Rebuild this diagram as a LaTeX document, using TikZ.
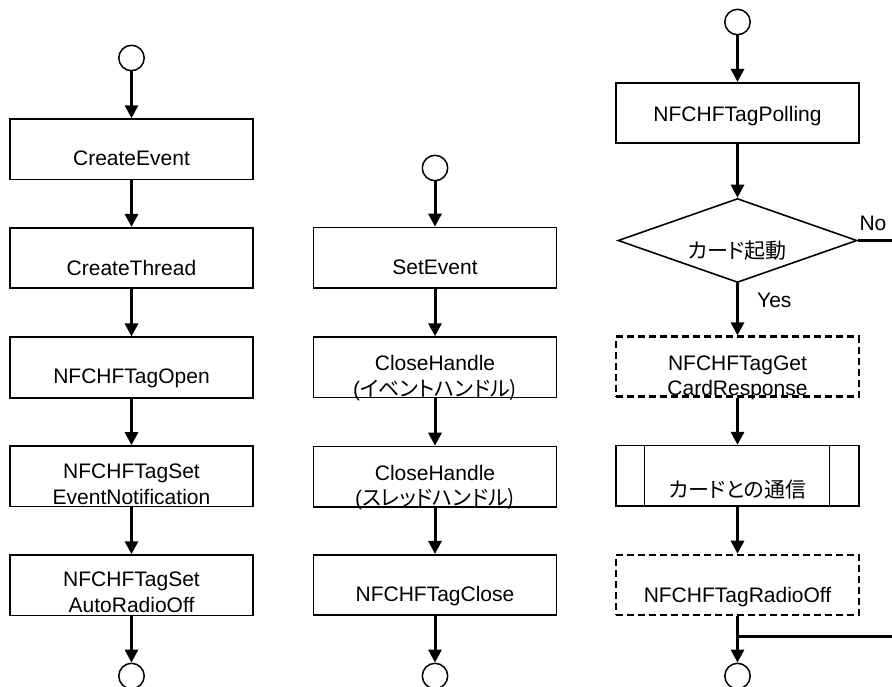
\documentclass[tikz,border=0pt]{standalone}
\usepackage{fontspec}
\setmainfont{Liberation Sans}
\newfontfamily\cjk{Noto Sans CJK JP}[RawFeature=+palt]
\usetikzlibrary{arrows.meta,shapes.geometric}
\begin{document}
\begin{tikzpicture}[x=1pt,y=-1pt,
  box/.style={draw,line width=1.6pt,minimum width=243pt,minimum height=60.5pt,inner sep=0pt},
  dbox/.style={draw,line width=2.6pt,dash pattern=on 7pt off 4pt,minimum width=243pt,minimum height=60pt,inner sep=0pt},
  term/.style={draw,circle,line width=1.5pt,minimum size=25.4pt,inner sep=0pt},
  dec/.style={draw,diamond,line width=1.6pt,minimum width=239pt,minimum height=84pt,inner sep=0pt},
  conn/.style={line width=3pt,-{Triangle[length=13pt,width=13pt]}},
  line/.style={line width=3pt},
  txt/.style={anchor=base,inner sep=0pt,font=\fontsize{21}{25}\selectfont},
  jtxt/.style={anchor=base,inner sep=0pt,font=\fontsize{21}{25}\selectfont\cjk}]
\useasboundingbox (0,0) rectangle (892,686);
\clip (0,0) rectangle (892,686);

% ---- left column ----
\node[term] (c1) at (131.5,58) {};
\node[box] (b1) at (131.5,149.3) {};
\node[box] (b2) at (131.5,258) {};
\node[box] (b3) at (131.5,367.5) {};
\node[box] (b4) at (131.5,476.2) {};
\node[box] (b5) at (131.5,585.3) {};
\node[term] (c2) at (131.5,676) {};
\node[txt] (t1) at (131.5,165) {CreateEvent};
\node[txt] (t2) at (131.5,275) {CreateThread};
\node[txt] (t3) at (131.5,383.3) {NFCHFTagOpen};
\node[txt] (t4a) at (131.5,478.3) {NFCHFTagSet};
\node[txt] (t4b) at (131.5,504) {EventNotification};
\node[txt] (t5a) at (131.5,586.7) {NFCHFTagSet};
\node[txt] (t5b) at (131.5,612.7) {AutoRadioOff};
\draw[conn] (c1) -- (b1);
\draw[conn] (b1) -- (b2);
\draw[conn] (b2) -- (b3);
\draw[conn] (b3) -- (b4);
\draw[conn] (b4) -- (b5);
\draw[conn] (b5) -- (c2);

% ---- middle column ----
\node[term] (m0) at (435,168) {};
\node[box] (m1) at (435,257.7) {};
\node[box] (m2) at (435,367.3) {};
\node[box] (m3) at (435,476.7) {};
\node[box] (m4) at (435,585) {};
\node[term] (m5) at (435,676) {};
\node[txt] (u1) at (435,274) {SetEvent};
\node[txt] (u2a) at (435,370) {CloseHandle};
\node[txt] (u2b) at (435,396) {(\cjk イベントハンドル)};
\node[txt] (u3a) at (435,480) {CloseHandle};
\node[txt] (u3b) at (435,505.5) {(\cjk スレッドハンドル)};
\node[txt] (u4) at (435,601) {NFCHFTagClose};
\draw[conn] (m0) -- (m1);
\draw[conn] (m1) -- (m2);
\draw[conn] (m2) -- (m3);
\draw[conn] (m3) -- (m4);
\draw[conn] (m4) -- (m5);

% ---- right column ----
\node[term] (r0) at (737.5,22) {};
\node[box] (r1) at (737.5,113) {};
\node[dec] (r2) at (737.5,240.5) {};
\node[dbox] (r3) at (737.5,366.7) {};
\node[box] (r4) at (737.5,475.9) {};
\node[dbox] (r5) at (737.5,585) {};
\node[term] (r6) at (737.5,676) {};
\draw[line width=1.2pt] ([xshift=29.3pt]r4.north west) -- ([xshift=29.3pt]r4.south west);
\draw[line width=1.2pt] ([xshift=-30pt]r4.north east) -- ([xshift=-30pt]r4.south east);
\node[txt] (v1) at (737.5,121.7) {NFCHFTagPolling};
\node[jtxt] (v2) at (737.5,258.5) {カード起動};
\node[txt] (v3a) at (737.5,370) {NFCHFTagGet};
\node[txt] (v3b) at (737.5,395) {CardResponse};
\node[jtxt] (v4) at (737.5,497) {カードとの通信};
\node[txt] (v5) at (737.5,602.7) {NFCHFTagRadioOff};
\node[txt,anchor=base west] (yes) at (757,307.5) {Yes};
\node[txt,anchor=base west] (no) at (859.3,230) {No};
\coordinate (noout) at (900,240.5);
\coordinate (j) at (737.5,636);
\coordinate (jout) at (900,636);
\draw[conn] (r0) -- (r1);
\draw[conn] (r1) -- (r2);
\draw[conn] (r2) -- (r3);
\draw[conn] (r3) -- (r4);
\draw[conn] (r4) -- (r5);
\draw[conn] (r5) -- (r6);
\draw[line] (r2.east) -- (noout);
\draw[line] (j) -- (jout);
\end{tikzpicture}
\end{document}
